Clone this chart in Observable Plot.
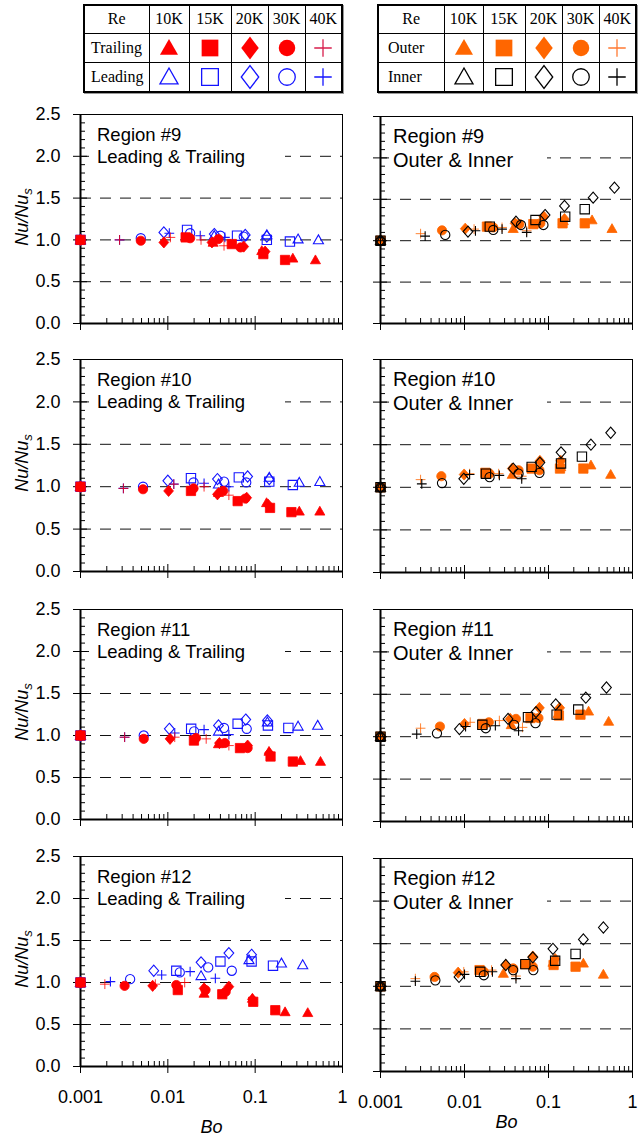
<!DOCTYPE html>
<html>
<head>
<meta charset="utf-8">
<script src="https://cdn.jsdelivr.net/npm/d3@7"></script>
<script src="https://cdn.jsdelivr.net/npm/@observablehq/plot@0.6"></script>
<style>
html, body { margin: 0; padding: 0; background: #fff; }
#root { position: relative; width: 642px; height: 1139px; overflow: hidden; font-family: "Liberation Sans", Arial, Helvetica, sans-serif; color: #000; }
table.legend { position: absolute; border-collapse: collapse; font-family: "Liberation Serif", "Times New Roman", serif; font-size: 16px; border: 2px solid #000; box-shadow: 1px 1px 0 #999; table-layout: fixed; }
table.legend td { border: 1.5px solid #000; padding: 0; text-align: center; vertical-align: middle; line-height: 1; }
table.legend td.name { text-align: left; }
table.legend svg { display: block; margin: 0 auto; overflow: visible; }
.box { position: absolute; background: #fff; white-space: nowrap; }
.ylab { position: absolute; font-style: italic; font-size: 18px; white-space: nowrap; transform: translate(-50%, -50%) rotate(-90deg); }
.ylab sub { font-size: 13px; vertical-align: -4px; }
</style>
</head>
<body>
<div id="root"></div>
<script>
// ---------------- data ----------------
const reLevels = ["10K", "15K", "20K", "30K", "40K"];
const xTickValues = [0.001, 0.01, 0.1, 1];
const yTickValues = [0, 0.5, 1.0, 1.5, 2.0, 2.5];
const gridValues = [0.5, 1.0, 1.5, 2.0];
const regionNames = ["Region #9", "Region #10", "Region #11", "Region #12"];
const pairTitles = ["Leading & Trailing", "Outer & Inner"];
const legendLeftRows = ["Trailing", "Leading"];
const legendRightRows = ["Outer", "Inner"];
const xLabel = "Bo";

// [Re, Bo, Nu/Nus]
const r9Trailing = [
  ["10K",0.001,1.00],["10K",0.033,0.97],["10K",0.119,0.87],["10K",0.27,0.78],["10K",0.49,0.76],
  ["15K",0.001,1.00],["15K",0.016,1.03],["15K",0.054,0.95],["15K",0.124,0.83],["15K",0.22,0.76],
  ["20K",0.001,1.00],["20K",0.009,0.97],["20K",0.032,0.97],["20K",0.074,0.92],["20K",0.13,0.86],
  ["30K",0.001,1.00],["30K",0.0049,0.99],["30K",0.018,1.02],["30K",0.038,1.01],["30K",0.068,0.91],
  ["40K",0.001,1.00],["40K",0.0028,1.00],["40K",0.0107,1.03],["40K",0.024,1.00],["40K",0.044,0.93]
];
const r9Leading = [
  ["10K",0.001,1.00],["10K",0.034,1.05],["10K",0.136,1.06],["10K",0.31,1.01],["10K",0.53,1.00],
  ["15K",0.001,1.00],["15K",0.0166,1.12],["15K",0.062,1.05],["15K",0.136,1.00],["15K",0.25,0.98],
  ["20K",0.001,1.00],["20K",0.009,1.09],["20K",0.034,1.07],["20K",0.077,1.06],["20K",0.136,1.04],
  ["30K",0.001,1.00],["30K",0.0049,1.02],["30K",0.018,1.08],["30K",0.040,1.05],["30K",0.074,1.04],
  ["40K",0.001,1.00],["40K",0.0028,1.00],["40K",0.0104,1.08],["40K",0.0235,1.05],["40K",0.045,1.03]
];
const r9Outer = [
  ["10K",0.001,1.00],["10K",0.038,1.145],["10K",0.15,1.24],["10K",0.33,1.25],["10K",0.57,1.145],
  ["15K",0.001,1.00],["15K",0.0185,1.17],["15K",0.066,1.20],["15K",0.147,1.21],["15K",0.27,1.21],
  ["20K",0.001,1.00],["20K",0.0102,1.145],["20K",0.040,1.21],["20K",0.088,1.29],["20K",0.155,1.26],
  ["30K",0.001,1.00],["30K",0.0054,1.125],["30K",0.022,1.16],["30K",0.045,1.20],["30K",0.080,1.21],
  ["40K",0.001,1.00],["40K",0.0030,1.085],["40K",0.013,1.14],["40K",0.028,1.16],["40K",0.055,1.12]
];
const r9Inner = [
  ["10K",0.001,1.00],
  ["15K",0.001,1.00],["15K",0.020,1.17],["15K",0.070,1.25],["15K",0.158,1.29],["15K",0.27,1.38],
  ["20K",0.001,1.00],["20K",0.011,1.11],["20K",0.041,1.23],["20K",0.091,1.31],["20K",0.155,1.42],["20K",0.34,1.52],["20K",0.61,1.64],
  ["30K",0.001,1.00],["30K",0.0059,1.07],["30K",0.022,1.13],["30K",0.047,1.19],["30K",0.087,1.19],
  ["40K",0.001,1.00],["40K",0.0034,1.055],["40K",0.0135,1.12],["40K",0.028,1.14],["40K",0.055,1.10]
];

const r10Trailing = [
  ["10K",0.001,1.00],["10K",0.038,0.93],["10K",0.135,0.81],["10K",0.32,0.71],["10K",0.55,0.71],
  ["15K",0.001,1.00],["15K",0.0184,0.95],["15K",0.063,0.83],["15K",0.148,0.75],["15K",0.26,0.70],
  ["20K",0.001,1.00],["20K",0.0102,0.95],["20K",0.037,0.91],["20K",0.080,0.87],["20K",0.14,0.79],
  ["30K",0.001,1.00],["30K",0.0052,0.97],["30K",0.0197,0.98],["30K",0.043,0.95],["30K",0.077,0.86],
  ["40K",0.001,1.00],["40K",0.0031,0.98],["40K",0.0117,1.03],["40K",0.026,1.00],["40K",0.050,0.90]
];
const r10Leading = [
  ["10K",0.001,1.00],["10K",0.038,1.03],["10K",0.145,1.11],["10K",0.32,1.05],["10K",0.55,1.06],
  ["15K",0.001,1.00],["15K",0.0184,1.10],["15K",0.065,1.11],["15K",0.145,1.06],["15K",0.27,1.02],
  ["20K",0.001,1.00],["20K",0.010,1.07],["20K",0.037,1.09],["20K",0.082,1.12],["20K",0.145,1.09],
  ["30K",0.001,1.00],["30K",0.0052,1.00],["30K",0.0197,1.05],["30K",0.044,1.06],["30K",0.079,1.05],
  ["40K",0.001,1.00],["40K",0.0031,0.98],["40K",0.0117,1.03],["40K",0.026,1.04],["40K",0.050,1.00]
];
const r10Outer = [
  ["10K",0.001,1.00],["10K",0.037,1.15],["10K",0.14,1.24],["10K",0.32,1.26],["10K",0.55,1.15],
  ["15K",0.001,1.00],["15K",0.0177,1.17],["15K",0.063,1.22],["15K",0.137,1.22],["15K",0.26,1.22],
  ["20K",0.001,1.00],["20K",0.0099,1.15],["20K",0.037,1.22],["20K",0.079,1.31],["20K",0.14,1.31],
  ["30K",0.001,1.00],["30K",0.0053,1.13],["30K",0.0199,1.16],["30K",0.044,1.20],["30K",0.078,1.20],
  ["40K",0.001,1.00],["40K",0.0030,1.09],["40K",0.0115,1.16],["40K",0.0255,1.16],["40K",0.048,1.13]
];
const r10Inner = [
  ["10K",0.001,1.00],
  ["15K",0.001,1.00],["15K",0.018,1.16],["15K",0.063,1.24],["15K",0.141,1.28],["15K",0.25,1.36],
  ["20K",0.001,1.00],["20K",0.0098,1.10],["20K",0.038,1.22],["20K",0.079,1.29],["20K",0.141,1.41],["20K",0.32,1.50],["20K",0.55,1.64],
  ["30K",0.001,1.00],["30K",0.0054,1.05],["30K",0.0199,1.12],["30K",0.044,1.16],["30K",0.078,1.17],
  ["40K",0.001,1.00],["40K",0.0031,1.04],["40K",0.0115,1.15],["40K",0.026,1.14],["40K",0.048,1.10]
];

const r11Trailing = [
  ["10K",0.001,1.00],["10K",0.038,0.90],["10K",0.144,0.81],["10K",0.33,0.70],["10K",0.56,0.69],
  ["15K",0.001,1.00],["15K",0.0199,0.94],["15K",0.067,0.85],["15K",0.15,0.75],["15K",0.27,0.69],
  ["20K",0.001,1.00],["20K",0.0106,0.96],["20K",0.039,0.91],["20K",0.082,0.88],["20K",0.145,0.79],
  ["30K",0.001,1.00],["30K",0.0053,0.96],["30K",0.021,0.97],["30K",0.045,0.91],["30K",0.082,0.85],
  ["40K",0.001,1.00],["40K",0.0032,0.98],["40K",0.012,0.98],["40K",0.0275,0.96],["40K",0.050,0.88]
];
const r11Leading = [
  ["10K",0.001,1.00],["10K",0.038,1.05],["10K",0.138,1.16],["10K",0.31,1.11],["10K",0.52,1.12],
  ["15K",0.001,1.00],["15K",0.0185,1.08],["15K",0.063,1.14],["15K",0.14,1.12],["15K",0.24,1.09],
  ["20K",0.001,1.00],["20K",0.0104,1.08],["20K",0.038,1.12],["20K",0.078,1.19],["20K",0.138,1.18],
  ["30K",0.001,1.00],["30K",0.0053,1.00],["30K",0.020,1.05],["30K",0.044,1.09],["30K",0.080,1.08],
  ["40K",0.001,1.00],["40K",0.0032,0.98],["40K",0.012,1.03],["40K",0.026,1.07],["40K",0.050,1.01]
];
const r11Outer = [
  ["10K",0.001,1.00],["10K",0.036,1.14],["10K",0.13,1.27],["10K",0.30,1.30],["10K",0.52,1.18],
  ["15K",0.001,1.00],["15K",0.0165,1.15],["15K",0.061,1.22],["15K",0.133,1.25],["15K",0.24,1.26],
  ["20K",0.001,1.00],["20K",0.0100,1.15],["20K",0.035,1.21],["20K",0.078,1.34],["20K",0.136,1.34],
  ["30K",0.001,1.00],["30K",0.0051,1.12],["30K",0.0195,1.17],["30K",0.041,1.21],["30K",0.076,1.22],
  ["40K",0.001,1.00],["40K",0.0030,1.10],["40K",0.0117,1.17],["40K",0.026,1.19],["40K",0.049,1.11]
];
const r11Inner = [
  ["10K",0.001,1.00],
  ["15K",0.001,1.00],["15K",0.0163,1.14],["15K",0.057,1.23],["15K",0.125,1.26],["15K",0.226,1.32],
  ["20K",0.001,1.00],["20K",0.0087,1.09],["20K",0.033,1.21],["20K",0.071,1.29],["20K",0.122,1.38],["20K",0.278,1.46],["20K",0.49,1.58],
  ["30K",0.001,1.00],["30K",0.0047,1.04],["30K",0.0179,1.10],["30K",0.039,1.14],["30K",0.070,1.16],
  ["40K",0.001,1.00],["40K",0.0027,1.03],["40K",0.0103,1.12],["40K",0.0233,1.13],["40K",0.044,1.07]
];

const r12Trailing = [
  ["10K",0.001,1.00],["10K",0.026,0.87],["10K",0.093,0.81],["10K",0.22,0.65],["10K",0.40,0.64],
  ["15K",0.001,1.00],["15K",0.013,0.91],["15K",0.042,0.86],["15K",0.095,0.77],["15K",0.17,0.67],
  ["20K",0.001,1.00],["20K",0.0067,0.96],["20K",0.026,0.93],["20K",0.050,0.95],["20K",0.093,0.80],
  ["30K",0.001,1.00],["30K",0.0032,0.96],["30K",0.0125,0.97],["30K",0.027,0.91],["30K",0.046,0.89],
  ["40K",0.001,1.00],["40K",0.0019,0.98],["40K",0.0072,0.98],["40K",0.0156,1.00],["40K",0.027,0.92]
];
const r12Leading = [
  ["10K",0.001,1.00],["10K",0.024,1.08],["10K",0.085,1.27],["10K",0.20,1.23],["10K",0.35,1.21],
  ["15K",0.001,1.00],["15K",0.0125,1.14],["15K",0.040,1.25],["15K",0.091,1.25],["15K",0.16,1.20],
  ["20K",0.001,1.00],["20K",0.0069,1.14],["20K",0.024,1.24],["20K",0.050,1.35],["20K",0.091,1.33],
  ["30K",0.001,1.00],["30K",0.0037,1.04],["30K",0.0137,1.12],["30K",0.029,1.18],["30K",0.054,1.14],
  ["40K",0.001,1.00],["40K",0.0022,1.01],["40K",0.0085,1.09],["40K",0.018,1.13],["40K",0.035,1.05]
];
const r12Outer = [
  ["10K",0.001,1.00],["10K",0.029,1.15],["10K",0.113,1.28],["10K",0.26,1.27],["10K",0.45,1.14],
  ["15K",0.001,1.00],["15K",0.0151,1.19],["15K",0.053,1.26],["15K",0.115,1.25],["15K",0.21,1.23],
  ["20K",0.001,1.00],["20K",0.0084,1.16],["20K",0.031,1.25],["20K",0.065,1.35],["20K",0.12,1.32],
  ["30K",0.001,1.00],["30K",0.0044,1.11],["30K",0.017,1.17],["30K",0.038,1.21],["30K",0.065,1.23],
  ["40K",0.001,1.00],["40K",0.0026,1.09],["40K",0.0098,1.17],["40K",0.021,1.19],["40K",0.041,1.12]
];
const r12Inner = [
  ["10K",0.001,1.00],
  ["15K",0.001,1.00],["15K",0.0154,1.17],["15K",0.053,1.26],["15K",0.12,1.30],["15K",0.21,1.38],
  ["20K",0.001,1.00],["20K",0.0086,1.11],["20K",0.031,1.25],["20K",0.065,1.34],["20K",0.113,1.44],["20K",0.26,1.55],["20K",0.45,1.69],
  ["30K",0.001,1.00],["30K",0.0045,1.07],["30K",0.017,1.13],["30K",0.038,1.19],["30K",0.066,1.19],
  ["40K",0.001,1.00],["40K",0.0026,1.06],["40K",0.0100,1.14],["40K",0.0215,1.17],["40K",0.041,1.09]
];

// ---------------- styling / layout ----------------
const COLORS = {Trailing: "#ff0000", Leading: "#1414ff", Outer: "#ff6600", Inner: "#000000"};
const LEGEND_PLUS = {Trailing: "#d81e4c", Leading: "#1414ff", Outer: "#ff7a33", Inner: "#000000"};
const FONT = "'Liberation Sans', Arial, Helvetica, sans-serif";

// custom marker shapes (size = pi r^2); tall = diamond height factor
function shape(kind, tall = 1.05) {
  return {
    draw(ctx, size) {
      const r = Math.sqrt(size / Math.PI);
      if (kind === "triangle") {
        ctx.moveTo(0, -0.95 * r); ctx.lineTo(0.95 * r, 0.72 * r); ctx.lineTo(-0.95 * r, 0.72 * r); ctx.closePath();
      } else if (kind === "square") {
        const h = 0.88 * r; ctx.moveTo(-h, -h); ctx.lineTo(h, -h); ctx.lineTo(h, h); ctx.lineTo(-h, h); ctx.closePath();
      } else if (kind === "diamond") {
        ctx.moveTo(0, -tall * r); ctx.lineTo(0.92 * r, 0); ctx.lineTo(0, tall * r); ctx.lineTo(-0.92 * r, 0); ctx.closePath();
      } else if (kind === "circle") {
        const c = 0.87 * r; ctx.moveTo(c, 0); ctx.arc(0, 0, c, 0, 2 * Math.PI);
      } else {
        const a = 0.92 * r; ctx.moveTo(-a, 0); ctx.lineTo(a, 0); ctx.moveTo(0, -a); ctx.lineTo(0, a);
      }
    }
  };
}
const shapeKinds = ["triangle", "square", "diamond", "circle", "plus"];
const symbolRange = shapeKinds.map(k => shape(k));

const xDomain = [xTickValues[0], xTickValues[xTickValues.length - 1]];
const yDomain = [yTickValues[0], yTickValues[yTickValues.length - 1]];
const xMinor = xTickValues.slice(0, -1).flatMap(d => d3.range(2, 10).map(k => k * d));
const yMinor = d3.range(0, 26).map(i => i / 10).filter(v => !yTickValues.some(t => Math.abs(t - v) < 1e-9));

const colLeft = {svgLeft: 0, width: 350, ml: 80, mr: 8, tops: [114, 359, 609, 856], hs: [209, 212, 210, 210], font: 18.5, lh: 22, boxW: 196, textPad: 8};
const colRight = {svgLeft: 350, width: 292, ml: 30, mr: 10, tops: [116, 359, 609, 858], hs: [207, 213, 212, 213], font: 20, lh: 24, boxW: 158, textPad: 4};

const root = document.getElementById("root");
const toRows = arr => arr.map(([re, bo, nu]) => ({re, bo, nu}));
const blank = () => "";

function makePanel(colIdx, rowIdx, filled, filledName, open, openName) {
  const c = colIdx === 0 ? colLeft : colRight;
  const bottom = rowIdx === 3;
  const mt = 8, mb = bottom ? 80 : 14;
  const H = c.hs[rowIdx];
  const isLeft = colIdx === 0;

  const filledMark = Plot.dot(toRows(filled), {x: "bo", y: "nu", symbol: "re", r: 5.3, fill: COLORS[filledName], stroke: COLORS[filledName], strokeWidth: 0.8});
  const openMark = Plot.dot(toRows(open), {x: "bo", y: "nu", symbol: "re", r: 5.3, fill: "none", stroke: COLORS[openName], strokeWidth: 1.1});

  const chart = Plot.plot({
    width: c.width,
    height: mt + H + mb,
    marginLeft: c.ml, marginRight: c.mr, marginTop: mt, marginBottom: mb,
    style: {background: "transparent", overflow: "visible", fontFamily: FONT, color: "#000"},
    x: {type: "log", domain: xDomain, label: null},
    y: {domain: yDomain, label: null},
    symbol: {domain: reLevels, range: symbolRange},
    marks: [
      Plot.ruleY(gridValues, {stroke: "#111", strokeWidth: 1, strokeDasharray: "11,9"}),
      Plot.frame({stroke: "#000", strokeWidth: 1}),
      Plot.ruleX([xDomain[0]], {stroke: "#000", strokeWidth: 2}),
      Plot.ruleY([yDomain[0]], {stroke: "#000", strokeWidth: 2}),
      Plot.axisY({ticks: yTickValues, tickSize: 7, tickPadding: 13, tickFormat: isLeft ? d3.format(".1f") : blank, fontSize: 18, label: null}),
      Plot.axisY({ticks: yTickValues, tickSize: -7, tickFormat: blank, label: null}),
      Plot.axisY({ticks: yMinor, tickSize: -5, tickFormat: blank, label: null}),
      Plot.axisX({ticks: xTickValues, tickSize: 7, tickPadding: 17, tickFormat: bottom ? (d => String(d)) : blank, fontSize: 18, label: null}),
      Plot.axisX({ticks: xTickValues, tickSize: -7, tickFormat: blank, label: null}),
      Plot.axisX({ticks: xMinor, tickSize: -5, tickFormat: blank, label: null}),
      ...(bottom ? [Plot.text([xLabel], {text: d => d, frameAnchor: "bottom", dy: isLeft ? 66 : 56, fontSize: 18, fontStyle: "italic"})] : []),
      ...(isLeft ? [openMark, filledMark] : [filledMark, openMark])
    ]
  });
  chart.style.position = "absolute";
  chart.style.left = c.svgLeft + "px";
  chart.style.top = (c.tops[rowIdx] - mt) + "px";
  root.appendChild(chart);

  // label box (white background over the grid)
  const box = document.createElement("div");
  box.className = "box";
  const plotX0 = c.svgLeft + c.ml;
  box.style.left = (plotX0 + 9) + "px";
  box.style.top = (c.tops[rowIdx] + 3) + "px";
  box.style.width = c.boxW + "px";
  box.style.fontSize = c.font + "px";
  box.style.lineHeight = c.lh + "px";
  box.style.paddingLeft = c.textPad + "px";
  box.style.paddingTop = (isLeft ? 7 : 5) + "px";
  box.style.paddingBottom = "6px";
  box.style.boxSizing = "border-box";
  box.innerHTML = regionNames[rowIdx] + "<br>" + pairTitles[colIdx].replace("&", "&amp;");
  root.appendChild(box);

  if (isLeft) {
    const yl = document.createElement("div");
    yl.className = "ylab";
    yl.style.left = "23px";
    yl.style.top = (c.tops[rowIdx] + H / 2 - 2) + "px";
    yl.innerHTML = "Nu/Nu<sub>s</sub>";
    root.appendChild(yl);
  }
}

const leftData = [[r9Trailing, r9Leading], [r10Trailing, r10Leading], [r11Trailing, r11Leading], [r12Trailing, r12Leading]];
const rightData = [[r9Outer, r9Inner], [r10Outer, r10Inner], [r11Outer, r11Inner], [r12Outer, r12Inner]];
leftData.forEach(([f, o], i) => makePanel(0, i, f, "Trailing", o, "Leading"));
rightData.forEach(([f, o], i) => makePanel(1, i, f, "Outer", o, "Inner"));

// ---------------- legend tables ----------------
function symbolSvg(kind, color, filledStyle) {
  const p = d3.path();
  shape(kind, 1.2).draw(p, Math.PI * 9.5 * 9.5);
  const ns = "http://www.w3.org/2000/svg";
  const svg = document.createElementNS(ns, "svg");
  svg.setAttribute("width", 22); svg.setAttribute("height", 22);
  svg.setAttribute("viewBox", "-11 -11 22 22");
  const path = document.createElementNS(ns, "path");
  path.setAttribute("d", p.toString());
  if (filledStyle && kind !== "plus") { path.setAttribute("fill", color); path.setAttribute("stroke", "none"); }
  else { path.setAttribute("fill", "none"); path.setAttribute("stroke", color); path.setAttribute("stroke-width", 1.3); }
  svg.appendChild(path);
  return svg;
}

function makeLegend(left, widths, rowNames, filledName, openName, namePad) {
  const t = document.createElement("table");
  t.className = "legend";
  t.style.left = left + "px";
  t.style.top = "4px";
  const heights = [28, 29, 30];
  const cg = document.createElement("colgroup");
  widths.forEach(w => { const col = document.createElement("col"); col.style.width = w + "px"; cg.appendChild(col); });
  t.appendChild(cg);
  const hr = t.insertRow();
  hr.style.height = heights[0] + "px";
  const h0 = hr.insertCell(); h0.textContent = "Re";
  reLevels.forEach(r => { const td = hr.insertCell(); td.textContent = r; });
  [[rowNames[0], filledName, true], [rowNames[1], openName, false]].forEach(([nm, cname, isFilled], ri) => {
    const tr = t.insertRow();
    tr.style.height = heights[ri + 1] + "px";
    const td0 = tr.insertCell(); td0.className = "name"; td0.textContent = nm; td0.style.paddingLeft = namePad + "px";
    shapeKinds.forEach(k => {
      const td = tr.insertCell();
      const col = k === "plus" ? LEGEND_PLUS[cname] : COLORS[cname];
      td.appendChild(symbolSvg(k, col, isFilled));
    });
  });
  root.appendChild(t);
}
makeLegend(83, [65, 40, 42, 37, 37, 37], legendLeftRows, "Trailing", "Leading", 6);
makeLegend(377, [66, 39, 42, 37, 37, 37], legendRightRows, "Outer", "Inner", 9);
</script>
</body>
</html>
